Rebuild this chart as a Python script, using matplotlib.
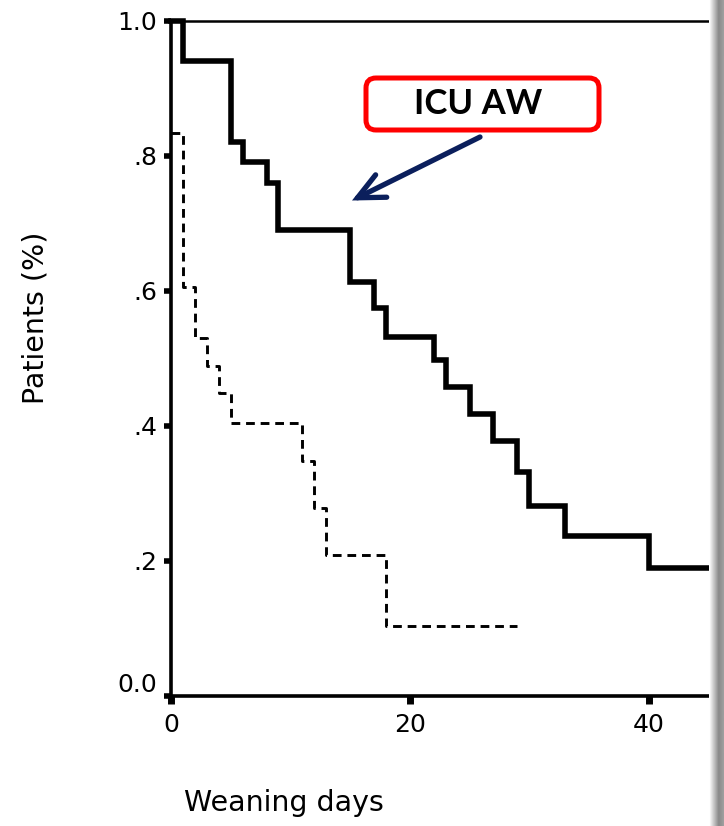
import numpy as np
import matplotlib
matplotlib.use("Agg")
import matplotlib.pyplot as plt
from matplotlib.patches import FancyBboxPatch
from matplotlib.transforms import ScaledTranslation

# ---- data ----
icuaw_days = [0, 1, 5, 6, 8, 9, 15, 17, 18, 22, 23, 25, 27, 29, 30, 33, 40, 46.3]
icuaw_surv = [1.0, 0.94, 0.82, 0.79, 0.76, 0.69, 0.613, 0.574, 0.532, 0.498,
              0.458, 0.418, 0.377, 0.331, 0.282, 0.237, 0.19, 0.19]

other_days = [0, 1, 2, 3, 4, 5, 11, 12, 13, 18, 29]
other_surv = [0.833, 0.605, 0.530, 0.489, 0.448, 0.404, 0.348, 0.278, 0.208, 0.104, 0.104]

y_ticks = [0.0, 0.2, 0.4, 0.6, 0.8, 1.0]
y_ticklabels = ["0.0", ".2", ".4", ".6", ".8", "1.0"]
x_ticks = [0, 20, 40]
x_ticklabels = ["0", "20", "40"]

W, H, DPI = 724, 826, 100
fig = plt.figure(figsize=(W / DPI, H / DPI), dpi=DPI)
fig.patch.set_facecolor("white")

left_px, right_px, top_px, bot_px = 171, 724, 20.5, 696
ax = fig.add_axes([left_px / W, 1 - bot_px / H, (right_px - left_px) / W, (bot_px - top_px) / H])
ax.set_xlim(0, 46.3)
ax.set_ylim(0, 1)

ax.step(icuaw_days, icuaw_surv, where="post", color="black", lw=4.0,
        solid_joinstyle="miter", clip_on=False, zorder=3)
ax.step(other_days, other_surv, where="post", color="black", lw=2.1,
        linestyle=(0, (3.0, 2.0)), clip_on=False, zorder=3)

for s in ["left", "bottom"]:
    ax.spines[s].set_linewidth(2.6)
ax.spines["top"].set_linewidth(1.8)
ax.spines["right"].set_visible(False)

ax.set_yticks(y_ticks)
ax.set_yticklabels(y_ticklabels)
ax.set_xticks(x_ticks)
ax.set_xticklabels(x_ticklabels)
ax.tick_params(axis="y", direction="out", length=5, width=4, labelsize=18, pad=5)
ax.tick_params(axis="x", direction="out", length=6, width=5, labelsize=18, pad=6)
for lab in ax.get_yticklabels() + ax.get_xticklabels():
    lab.set_family("DejaVu Sans")

# the "0.0" label sits a little above its tick in the reference
zero_lab = ax.get_yticklabels()[0]
zero_lab.set_transform(zero_lab.get_transform() + ScaledTranslation(0, 14 / DPI, fig.dpi_scale_trans))

ax.set_ylabel("Patients (%)", fontsize=20.5, family="DejaVu Sans", va="center")
ax.yaxis.set_label_coords((36 - left_px) / (right_px - left_px), (bot_px - 318) / (bot_px - top_px))
ax.set_xlabel("Weaning days", fontsize=20.5, family="DejaVu Sans", va="center")
ax.xaxis.set_label_coords((283.5 - left_px) / (right_px - left_px), (bot_px - 803) / (bot_px - top_px))

# ---- annotation box and arrow ----
box = FancyBboxPatch((3.66, (H - 130) / DPI), 2.33, 0.52,
                     boxstyle="round,pad=0,rounding_size=0.1",
                     transform=fig.dpi_scale_trans, facecolor="white",
                     edgecolor="#ff0000", lw=3.6, zorder=5)
fig.patches.append(box)
fig.text(4.78 / (W / DPI), 1 - 104 / H, "ICU AW", ha="center", va="center",
         family=["Lato", "DejaVu Sans"], fontweight="bold", fontsize=25, zorder=6)

def px2data(px, py):
    xd = (px - left_px) / (right_px - left_px) * 46.3
    yd = (bot_px - py) / (bot_px - top_px)
    return xd, yd

ax.annotate("", xy=px2data(352, 200.5), xytext=px2data(480, 137),
            arrowprops=dict(arrowstyle="->,head_length=0.95,head_width=0.45",
                            color="#0b1f5c", lw=3.8, mutation_scale=20,
                            shrinkA=0, shrinkB=0, joinstyle="miter",
                            capstyle="round"),
            annotation_clip=False, zorder=6)

# ---- grey page shadow at right edge ----
sax = fig.add_axes([709 / W, 0, 15 / W, 1])
grad = np.concatenate([np.linspace(1.0, 0.55, 10), np.linspace(0.55, 0.62, 5)])
sax.imshow(grad[None, :], aspect="auto", cmap="gray", vmin=0, vmax=1,
           extent=[0, 1, 0, 1], interpolation="bilinear")
sax.set_axis_off()

fig.savefig("out.png", dpi=DPI, facecolor="white")
